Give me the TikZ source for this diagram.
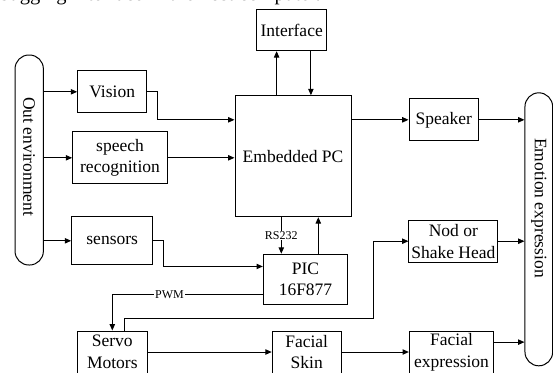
\documentclass[tikz,border=0pt]{standalone}
\usepackage{fontspec}
\setmainfont{Liberation Serif}
\usetikzlibrary{arrows.meta,positioning,calc}

\begin{document}
\begin{tikzpicture}[
    x = 0.6pt, y = -0.6pt, % one unit is one pixel of the sketch
    > = {Triangle[length=3.8pt,width=3.2pt]}, % arrow head style
    semithick, % line style
    font = \fontsize{10.5}{13}\selectfont
    ]

    \tikzset{
    block/.style = {draw = black, fill = white, align = center, inner sep = 1pt},
    pill/.style = {draw = black, rounded corners = 8.3pt, minimum width = 17pt},
    tag/.style = {fill = white, inner sep = 0.5pt, font = \fontsize{7.2}{8}\selectfont}
    }

    \useasboundingbox (0,0) rectangle (553,372);
    \clip (0,0) rectangle (553,372);

    \node[anchor=base west, inner sep=0pt, font=\fontsize{12.3}{14}\selectfont] (title) at (-1,0.8) {bugging interface in the host computer.};

    % the two ends
    \node[pill, minimum height=126pt] (outenv) at (29.2,160) {};
    \node[rotate=-90] (outtxt) at (29.2,156.7) {Out environment};
    \node[pill, minimum height=163.8pt, minimum width=16.6pt] (emotion) at (538.8,229.3) {};
    \node[rotate=-90] (emotxt) at (538.8,208) {Emotion expression};

    % blocks
    \node[block, minimum width=42pt, minimum height=24.8pt] (interface) at (291.7,30) {Interface};
    \node[block, minimum width=69.6pt, minimum height=72.6pt] (embedded) at (293,156.2) {Embedded PC};
    \node[block, minimum width=41.6pt, minimum height=25pt] (speaker) at (443.7,119.8) {Speaker};
    \node[block, minimum width=41.4pt, minimum height=25pt] (vision) at (112.2,91.8) {Vision};
    \node[block, minimum width=56.8pt, minimum height=31.4pt] (speech) at (120,157.8) {speech\\recognition};
    \node[block, minimum width=48.6pt, minimum height=29pt] (sensors) at (112.2,240.8) {sensors};
    \node[block, minimum width=50.6pt, minimum height=30pt] (pic) at (305.5,279.2) {PIC\\16F877};
    \node[block, minimum width=53.2pt, minimum height=25.4pt] (nod) at (453.3,241.2) {Nod or\\Shake Head};
    \node[block, minimum width=41.7pt, minimum height=25.2pt] (servo) at (112.3,352) {Servo\\Motors};
    \node[block, minimum width=41.4pt, minimum height=25.2pt] (fskin) [right=74.5pt of servo] {Facial\\Skin};
    \node[block, minimum width=50.6pt, minimum height=25.2pt] (fexpr) [right=40.3pt of fskin] {Facial\\expression};

    \coordinate (pcUp) at ($(embedded.north west)!0.36!(embedded.north east)$);
    \coordinate (pcDown) at ($(embedded.north west)!0.653!(embedded.north east)$);
    \coordinate (rsTop) at ($(embedded.south west)!0.4!(embedded.south east)$);
    \coordinate (picUp) at ($(pic.north west)!0.65!(pic.north east)$);
    \coordinate (servoUp) at ($(servo.north west)!0.67!(servo.north east)$);
    \coordinate (feOut) at ($(fexpr.north east)!0.27!(fexpr.south east)$);

    \draw[->] (pcUp) -- (pcUp |- interface.south);
    \draw[->] (pcDown |- interface.south) -- (pcDown);

    \draw[->] (vision.west -| outenv.east) -- (vision.west);
    \draw[->] (speech.west -| outenv.east) -- (speech.west);
    \draw[->] (sensors.west -| outenv.east) -- (sensors.west);

    \draw[->] (vision.east) -- ++(10,0) |- (embedded.west |- speaker.west);
    \draw[->] (speech.east) -- (speech.east -| embedded.west);
    \draw[->] (embedded.east |- speaker.west) -- (speaker.west);
    \draw[->] (speaker.east) -- (speaker.east -| emotion.west);

    \draw[->] (sensors.east) -- ++(10.6,0) |- ($(pic.north west)!0.25!(pic.south west)$);
    \draw[->] (rsTop) -- node[tag] (rs) {RS232} (rsTop |- pic.north);
    \draw[->] (picUp) -- (picUp |- embedded.south);
    \draw[->] ($(pic.north west)!0.8!(pic.south west)$) -| node[tag, pos=0.31] (pwm) {PWM} (servo.north);

    \draw[->] (servoUp) -- ++(0,-12) -- ++(249.3,0) |- (nod.west);
    \draw[->] (servo) -- (fskin);
    \draw[->] (fskin) -- (fexpr);
    \draw[->] (nod.east) -- (nod.east -| emotion.west);
    \draw[->] (feOut) -- (feOut -| emotion.west);
\end{tikzpicture}
\end{document}
